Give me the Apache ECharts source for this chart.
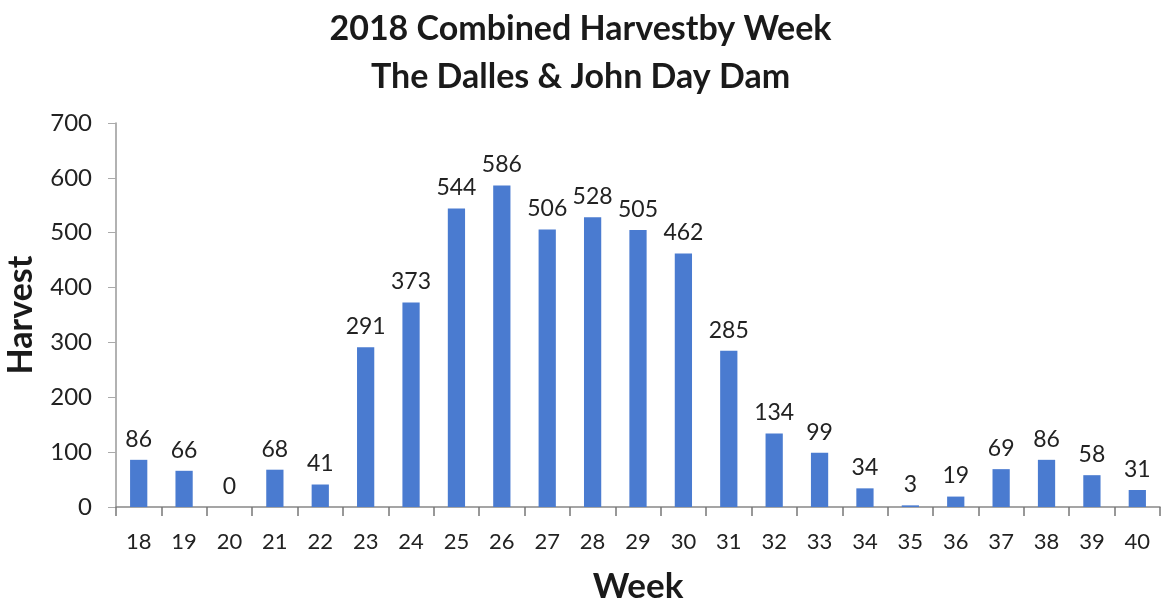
<!DOCTYPE html>
<html>
<head>
<meta charset="utf-8">
<script src="https://cdn.jsdelivr.net/npm/echarts@6/dist/echarts.min.js"></script>
<style>
  html, body { margin: 0; padding: 0; background: #fff; }
  #chart { width: 1161px; height: 603px; }
</style>
</head>
<body>
<div id="chart"></div>
<script>
// Weekly harvest totals, weeks 18–40
const weeks = ['18','19','20','21','22','23','24','25','26','27','28','29','30','31','32','33','34','35','36','37','38','39','40'];
const harvest = [86, 66, 0, 68, 41, 291, 373, 544, 586, 506, 528, 505, 462, 285, 134, 99, 34, 3, 19, 69, 86, 58, 31];
const titleLines = ['2018 Combined Harvestby Week', 'The Dalles & John Day Dam'];

const font = 'Lato, "Open Sans", sans-serif';
const chart = echarts.init(document.getElementById('chart'));
chart.setOption({
  animation: false,
  title: {
    text: titleLines.join('\n'),
    left: 'center',
    top: 0,
    textStyle: { fontFamily: font, fontWeight: 'bold', fontSize: 34, lineHeight: 48, color: '#1a1a1a' }
  },
  grid: { left: 116, right: 1, top: 123, bottom: 96, containLabel: false, outerBoundsMode: 'none' },
  xAxis: {
    type: 'category',
    data: weeks,
    name: 'Week',
    nameLocation: 'middle',
    nameGap: 62,
    nameTextStyle: { fontFamily: font, fontWeight: 'bold', fontSize: 35, color: '#1a1a1a' },
    axisLine: { lineStyle: { color: '#888', width: 1.5 } },
    axisTick: { show: true, length: 9, lineStyle: { color: '#777', width: 1.5 } },
    axisLabel: { fontFamily: font, fontSize: 22, color: '#222', margin: 24 }
  },
  yAxis: {
    type: 'value',
    min: 0,
    max: 700,
    interval: 100,
    name: 'Harvest',
    nameLocation: 'middle',
    nameGap: 78,
    nameRotate: 90,
    nameTextStyle: { fontFamily: font, fontWeight: 'bold', fontSize: 34, color: '#1a1a1a' },
    axisLine: { show: true, lineStyle: { color: '#999', width: 1.5 } },
    axisTick: { show: true, length: 8, lineStyle: { color: '#aaa' } },
    axisLabel: { fontFamily: font, fontSize: 24, color: '#222', margin: 24 },
    splitLine: { show: false }
  },
  series: [{
    type: 'bar',
    data: harvest,
    barWidth: '38%',
    itemStyle: { color: '#4a7bd0' },
    label: {
      show: true,
      position: 'top',
      distance: 9,
      fontFamily: font,
      fontSize: 23,
      color: '#222'
    }
  }]
});
</script>
</body>
</html>
